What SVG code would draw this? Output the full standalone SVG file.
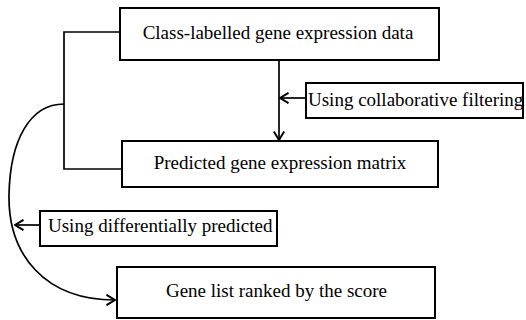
<svg xmlns="http://www.w3.org/2000/svg" width="526" height="320" viewBox="0 0 526 320">
  <style>
    .box { fill: #ffffff; stroke: #000000; stroke-width: 2; }
    .mid { text-anchor: middle; }
    .wire { fill: none; stroke: #000000; stroke-width: 1.7; }
  </style>
  <defs>
    <marker id="vee" viewBox="0 0 12 12" refX="11" refY="6" markerWidth="12" markerHeight="12" markerUnits="userSpaceOnUse" orient="auto">
      <polyline points="2.5,0.8 11,6 2.5,11.2" fill="none" stroke="#000000" stroke-width="2"/>
    </marker>
  </defs>

  <rect width="526" height="320" fill="#ffffff"/>

  <g id="connectors">
    <!-- main flow: data to predicted matrix -->
    <line class="wire" x1="279" y1="60" x2="279" y2="140" marker-end="url(#vee)"/>
    <!-- collaborative filtering feeds the main flow -->
    <line class="wire" x1="306" y1="98" x2="280" y2="98" marker-end="url(#vee)"/>
    <!-- bracket joining the two upper boxes -->
    <polyline class="wire" points="120,32 64,32 64,169 122,169"/>
    <!-- curved path down to the ranked gene list -->
    <path class="wire" d="M64,104 C30,104 10,140 9,195 C8,255 45,300 115,300" marker-end="url(#vee)"/>
    <!-- differential prediction feeds the curve -->
    <line class="wire" x1="40" y1="225" x2="15" y2="225" marker-end="url(#vee)"/>
  </g>

  <g font-family="Liberation Serif, serif" font-size="19" fill="#000000">
    <g id="node-data">
      <rect class="box" x="120" y="8" width="319" height="52"/>
      <text class="mid" x="278" y="38.5">Class-labelled gene expression data</text>
    </g>

    <g id="node-cf">
      <rect class="box" x="306" y="83" width="217" height="35"/>
      <text x="308" y="106">Using collaborative filtering</text>
    </g>

    <g id="node-matrix">
      <rect class="box" x="122" y="141" width="316" height="46"/>
      <text class="mid" x="280" y="169">Predicted gene expression matrix</text>
    </g>

    <g id="node-diff">
      <rect class="box" x="40" y="211" width="237" height="35"/>
      <text x="48" y="232">Using differentially predicted</text>
    </g>

    <g id="node-ranked">
      <rect class="box" x="117" y="267" width="318" height="51"/>
      <text class="mid" x="276.5" y="297">Gene list ranked by the score</text>
    </g>
  </g>
</svg>
